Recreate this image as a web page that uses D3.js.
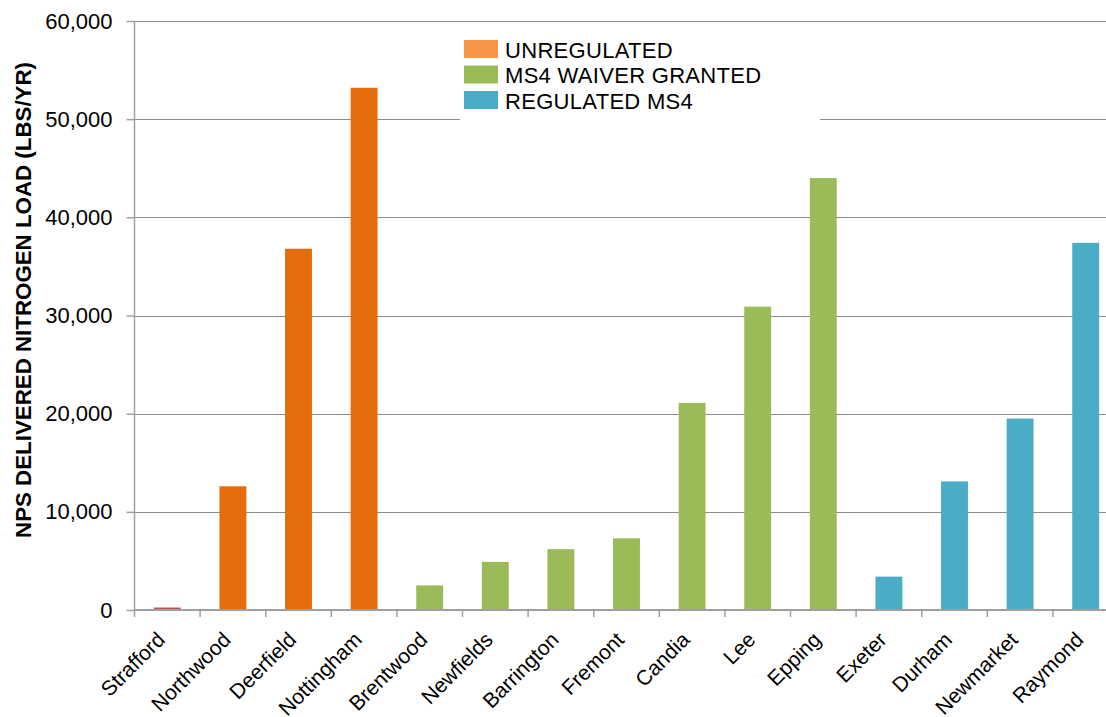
<!DOCTYPE html>
<html>
<head>
<meta charset="utf-8">
<script src="https://cdn.jsdelivr.net/npm/d3@7"></script>
<style>
  html, body { margin: 0; padding: 0; background: #fff; }
  svg { display: block; font-family: "Liberation Sans", Arial, sans-serif; }
</style>
</head>
<body>
<svg id="chart" width="1106" height="717"></svg>
<script>
// Towns and their delivered non-point-source nitrogen load (lbs/yr)
const towns = ["Strafford", "Northwood", "Deerfield", "Nottingham", "Brentwood", "Newfields",
  "Barrington", "Fremont", "Candia", "Lee", "Epping", "Exeter", "Durham", "Newmarket", "Raymond"];
const loads = [250, 12600, 36800, 53200, 2500, 4900, 6200, 7300, 21100, 30900, 44000,
  3400, 13100, 19500, 37400];
// Regulatory group of each town
const groups = ["U", "U", "U", "U", "W", "W", "W", "W", "W", "W", "W", "R", "R", "R", "R"];
const yTicks = [0, 10000, 20000, 30000, 40000, 50000, 60000];
const legendLabels = ["UNREGULATED", "MS4 WAIVER GRANTED", "REGULATED MS4"];
const legendKeys = ["U", "W", "R"];

const barColor = { U: "#E46C0A", W: "#9BBB59", R: "#4BACC6" };
const legendColor = { U: "#F79646", W: "#9BBB59", R: "#4BACC6" };

const svg = d3.select("#chart");
const plotLeft = 134.5, plotRight = 134.5 + 15 * 65.6, plotTop = 21, plotBottom = 610;

const x = d3.scaleBand().domain(towns).range([plotLeft, plotRight])
  .paddingInner(0.59).paddingOuter(0.295);
const y = d3.scaleLinear().domain([0, 60000]).range([plotBottom, plotTop]);

// Horizontal gridlines
svg.append("g").selectAll("line").data(yTicks.filter(d => d > 0)).join("line")
  .attr("x1", plotLeft).attr("x2", plotRight)
  .attr("y1", d => Math.round(y(d)) + 0.5).attr("y2", d => Math.round(y(d)) + 0.5)
  .attr("stroke", "#8c8c8c").attr("stroke-width", 1);

// Bars
svg.append("g").selectAll("rect").data(towns).join("rect")
  .attr("x", d => x(d))
  .attr("width", x.bandwidth())
  .attr("y", (d, i) => y(loads[i]))
  .attr("height", (d, i) => plotBottom - y(loads[i]))
  .attr("fill", (d, i) => i === 0 ? "#C0504D" : barColor[groups[i]]);

// Y axis
const yAxis = d3.axisLeft(y).tickValues(yTicks).tickSize(8).tickPadding(14)
  .tickFormat(d3.format(","));
const gy = svg.append("g").attr("transform", `translate(${plotLeft},0)`).call(yAxis);
gy.select(".domain").attr("stroke", "#a0a0a0").attr("stroke-width", 1.5)
  .attr("d", `M0,${plotTop}V${plotBottom}`);
gy.selectAll(".tick line").attr("stroke", "#a0a0a0").attr("stroke-width", 1.5);
gy.selectAll(".tick text").attr("font-size", 22).attr("fill", "#000")
  .attr("font-family", "'Liberation Sans', Arial, sans-serif");

// X axis baseline and category divider ticks
const gx = svg.append("g");
gx.append("line").attr("x1", plotLeft).attr("x2", plotRight).attr("y1", plotBottom).attr("y2", plotBottom)
  .attr("stroke", "#a0a0a0").attr("stroke-width", 2);
const step = x.step();
gx.selectAll("line.tk").data(d3.range(towns.length + 1)).join("line").attr("class", "tk")
  .attr("x1", i => plotLeft + i * step).attr("x2", i => plotLeft + i * step)
  .attr("y1", plotBottom).attr("y2", plotBottom + 7)
  .attr("stroke", "#a0a0a0").attr("stroke-width", 1.5);

// Rotated category labels
gx.selectAll("text").data(towns).join("text")
  .attr("transform", d => `translate(${x(d) + x.bandwidth() / 2 - 1},${plotBottom + 31}) rotate(-45)`)
  .attr("text-anchor", "end")
  .attr("font-size", 21)
  .attr("fill", "#000")
  .text(d => d);

// Y axis title
svg.append("text")
  .attr("transform", `translate(31,300) rotate(-90)`)
  .attr("text-anchor", "middle")
  .attr("font-size", 22)
  .attr("font-weight", "bold")
  .attr("textLength", 476)
  .attr("lengthAdjust", "spacingAndGlyphs")
  .attr("fill", "#000")
  .text("NPS DELIVERED NITROGEN LOAD (LBS/YR)");

// Legend
const lg = svg.append("g");
lg.append("rect").attr("x", 460).attr("y", 30).attr("width", 360).attr("height", 92).attr("fill", "#fff");
const rows = lg.selectAll("g.row").data(legendKeys).join("g").attr("class", "row")
  .attr("transform", (d, i) => `translate(464,${40 + i * 25.5})`);
rows.append("rect").attr("width", 34).attr("height", 18).attr("fill", d => legendColor[d]);
rows.append("text").attr("x", 41).attr("y", 17.5).attr("font-size", 22).attr("letter-spacing", 0.3)
  .attr("fill", "#000")
  .text((d, i) => legendLabels[i]);
</script>
</body>
</html>
